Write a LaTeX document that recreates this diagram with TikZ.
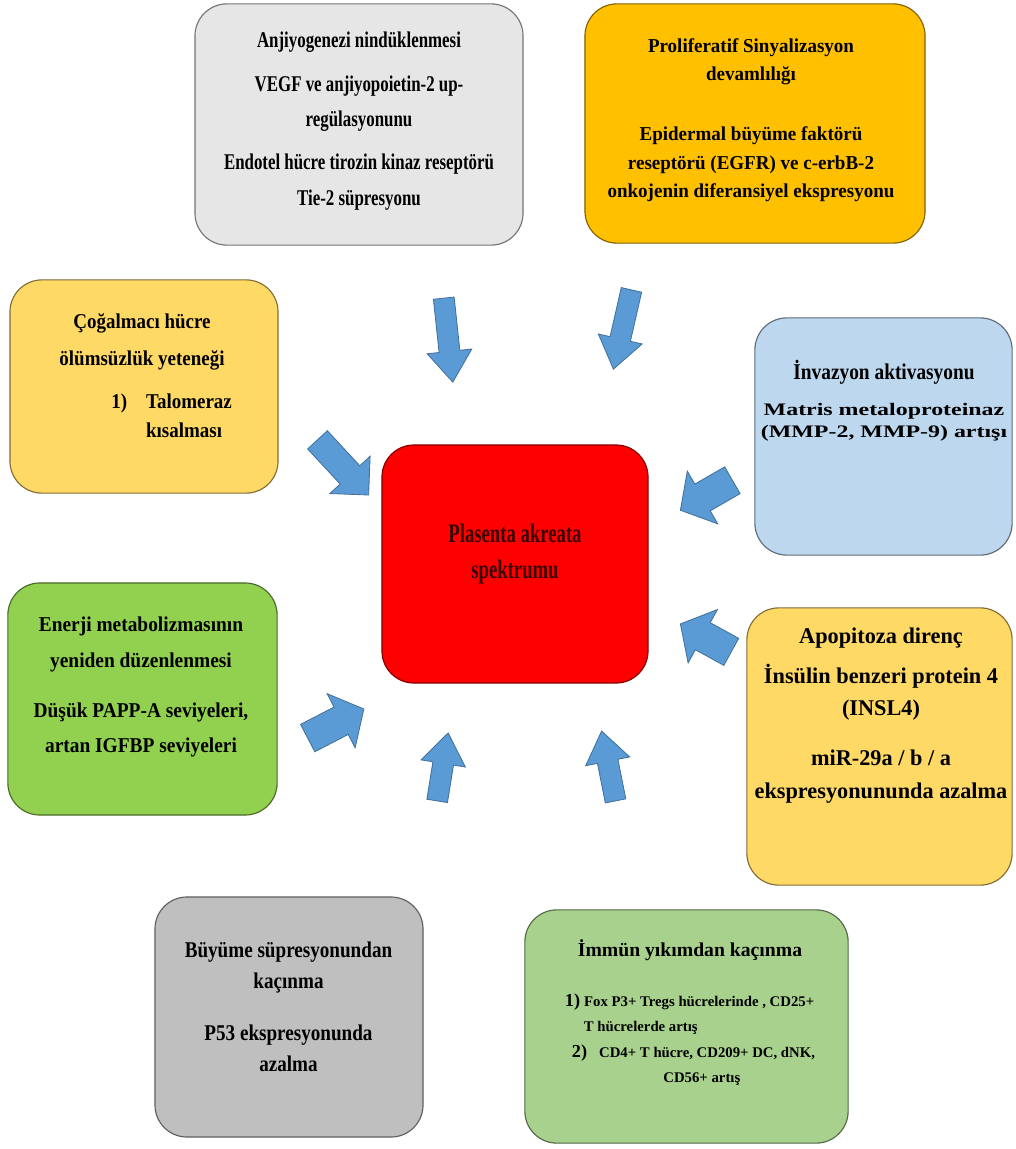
\documentclass[tikz,border=0pt]{standalone}
\usepackage{fontspec}
\setmainfont{Liberation Serif}
\usepackage{tikz}
\usetikzlibrary{shapes.arrows}
\definecolor{cAngio}{HTML}{E7E6E6}
\definecolor{cProlif}{HTML}{FFC000}
\definecolor{cImmort}{HTML}{FFD966}
\definecolor{cInvas}{HTML}{BDD7EE}
\definecolor{cEnergy}{HTML}{92D050}
\definecolor{cApop}{HTML}{FFD966}
\definecolor{cGrowth}{HTML}{BFBFBF}
\definecolor{cImmune}{HTML}{A9D18E}
\definecolor{cPas}{HTML}{FF0000}
\definecolor{cPasText}{HTML}{3A0000}
\definecolor{cArrow}{HTML}{5B9BD5}
\definecolor{cArrowLine}{HTML}{41719C}
% size, leading, horizontal stretch
\newcommand\bxfont[3]{\fontsize{#1}{#2}\selectfont\bfseries\addfontfeature{FakeStretch=#3}}
\tikzset{
  box/.style={rounded corners=0.8cm, draw=#1!50!black, line width=0.8pt, fill=#1, inner sep=0pt},
  txt/.style={align=center, text=black, inner sep=0pt},
  blockarr/.style={single arrow, draw=cArrowLine, line width=0.6pt, fill=cArrow, inner xsep=0pt,
                   single arrow head indent=0pt, sloped, allow upside down, midway},
  slim/.style={inner ysep=0.25cm, single arrow head extend=0.3cm, single arrow tip angle=72},
  fat/.style={inner ysep=0.375cm, single arrow head extend=0.375cm, single arrow tip angle=100},
}

\begin{document}
\begin{tikzpicture}[x=0.025cm, y=-0.025cm]
  \useasboundingbox (0,0) rectangle (1015,1149);

  % boxes
  \node[box=cAngio, minimum width=8.2cm, minimum height=6.03cm] (angio) at (359,124.5) {};
  \node[box=cProlif, minimum width=8.5cm, minimum height=5.98cm] (prolif) at (755,123.5) {};
  \node[box=cImmort, minimum width=6.7cm, minimum height=5.33cm] (immort) at (144,386.5) {};
  \node[box=cInvas, minimum width=6.43cm, minimum height=5.93cm] (invas) at (883.5,436.5) {};
  \node[box=cEnergy, minimum width=6.73cm, minimum height=5.8cm] (energy) at (142.5,699) {};
  \node[box=cApop, minimum width=6.63cm, minimum height=6.93cm] (apop) at (879.5,746.5) {};
  \node[box=cGrowth, minimum width=6.7cm, minimum height=6cm] (growth) at (289,1017) {};
  \node[box=cImmune, minimum width=8.08cm, minimum height=5.83cm] (immune) at (686.5,1026.5) {};
  \node[box=cPas, minimum width=6.65cm, minimum height=5.95cm] (pas) at (515,564) {};

  % texts
  \node[txt, font=\bxfont{16}{25}{0.75}] (angioT) at (359,121)
    {Anjiyogenezi nindüklenmesi\\[6pt] VEGF ve anjiyopoietin-2 up-\\regülasyonunu\\[6pt]
     Endotel hücre tirozin kinaz reseptörü\\Tie-2 süpresyonu};
  \node[txt, font=\bxfont{14}{20}{0.965}] (prolifT) at (751,120)
    {Proliferatif Sinyalizasyon\\devamlılığı\\[23pt] Epidermal büyüme faktörü\\
     reseptörü (EGFR) ve c-erbB-2\\onkojenin diferansiyel ekspresyonu};
  \node[txt, font=\bxfont{15}{26}{0.9}] (immortT) at (142,380)
    {Çoğalmacı hücre\\ölümsüzlük yeteneği\\[4.5pt]
     \hspace*{1.48cm}{\renewcommand\arraystretch{0.8}\begin{tabular}[t]{@{}l@{\hspace{13.5pt}}l@{}}1) & Talomeraz\\ & kısalması\end{tabular}}};
  \node[txt, font=\bxfont{12.5}{15.6}{1.36}] (invasT) at (884,401)
    {{\bxfont{16}{16}{0.86}İnvazyon aktivasyonu}\\[10pt] Matris metaloproteinaz\\(MMP-2, MMP-9) artışı};
  \node[txt, font=\bxfont{15}{25}{0.92}] (energyT) at (141,687)
    {Enerji metabolizmasının\\yeniden düzenlenmesi\\[10.5pt] Düşük PAPP-A seviyeleri,\\artan IGFBP seviyeleri};
  \node[txt, font=\bxfont{16}{23}{0.99}] (apopT) at (881,715.5)
    {Apopitoza direnç\\[5.5pt] İnsülin benzeri protein 4\\(INSL4)\\[12.5pt] miR-29a / b / a\\ekspresyonununda azalma};
  \node[txt, font=\bxfont{16}{22}{0.85}] (growthT) at (288.5,1006.5)
    {Büyüme süpresyonundan\\kaçınma\\[15pt] P53 ekspresyonunda\\azalma};
  \node[txt, font=\bxfont{10.5}{18}{1}] (immuneT) at (690,1015)
    {{\bxfont{14}{18}{1}İmmün yıkımdan kaçınma}\\[17.5pt]
     \begin{tabular}[t]{@{}l@{}}
       {\bxfont{13}{18}{1}1)}\hspace*{2.8pt}Fox P3+ Tregs hücrelerinde , CD25+\\
       \hspace*{13.5pt}T hücrelerde artış\\
       \hspace*{5pt}{\bxfont{13}{18}{1}2)}\hspace*{8.5pt}CD4+ T hücre, CD209+ DC, dNK,\\
       \hspace*{70pt}CD56+ artış
     \end{tabular}};
  \node[txt, text=cPasText, font=\bxfont{19}{25}{0.7}] (pasT) at (515,554) {Plasenta akreata\\spektrumu};

  % arrow ends
  \coordinate (angioS) at (443,291);   \coordinate (angioE) at (452,375);
  \coordinate (prolifS) at (633,283);  \coordinate (prolifE) at (615,362);
  \coordinate (immortS) at (313,435);  \coordinate (immortE) at (364,490);
  \coordinate (invasS) at (738,477);   \coordinate (invasE) at (686,507);
  \coordinate (energyS) at (302,741);  \coordinate (energyE) at (358,712);
  \coordinate (apopS) at (737,655);    \coordinate (apopE) at (686,627);
  \coordinate (growthS) at (436,808);  \coordinate (growthE) at (447,740);
  \coordinate (immuneS) at (617,808);  \coordinate (immuneE) at (603,738);

  % block arrows
  \path (angioS) -- (angioE) node[blockarr, slim, minimum height=2.11cm] (angioA) {};
  \path (prolifS) -- (prolifE) node[blockarr, slim, minimum height=2.03cm] (prolifA) {};
  \path (immortS) -- (immortE) node[blockarr, inner ysep=0.325cm, single arrow head extend=0.35cm,
        single arrow tip angle=90, minimum height=1.88cm] (immortA) {};
  \path (invasS) -- (invasE) node[blockarr, fat, minimum height=1.5cm] (invasA) {};
  \path (energyS) -- (energyE) node[blockarr, fat, minimum height=1.58cm] (energyA) {};
  \path (apopS) -- (apopE) node[blockarr, fat, minimum height=1.45cm] (apopA) {};
  \path (growthS) -- (growthE) node[blockarr, slim, minimum height=1.72cm] (growthA) {};
  \path (immuneS) -- (immuneE) node[blockarr, slim, minimum height=1.78cm] (immuneA) {};
\end{tikzpicture}
\end{document}
